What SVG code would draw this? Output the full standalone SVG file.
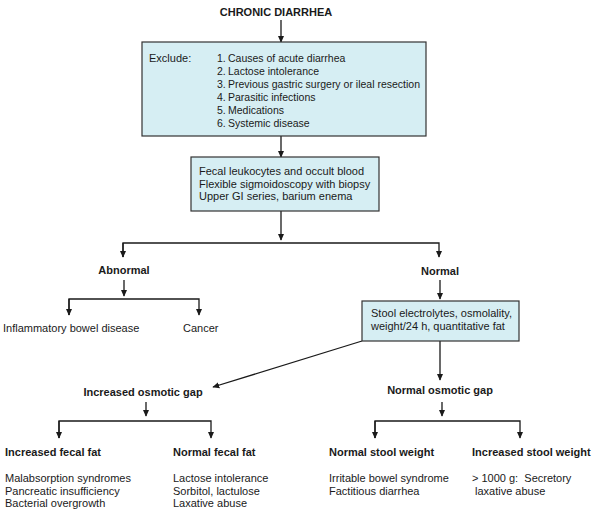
<svg xmlns="http://www.w3.org/2000/svg" width="595" height="514" viewBox="0 0 595 514">
<style>
text{font-family:"Liberation Sans",Arial,sans-serif;font-size:11px;fill:#1a1a1a}
.b{font-weight:bold}
.m{text-anchor:middle}
.s{font-size:10.5px}
.box{fill:#d6eef3;stroke:#333;stroke-width:1.2}
.ln{stroke:#1a1a1a;stroke-width:1.3;fill:none}
</style>
<defs>
<marker id="ah" viewBox="0 0 10 10" refX="9" refY="5" markerWidth="7" markerHeight="7" markerUnits="userSpaceOnUse" orient="auto"><path d="M0,0.5 L10,5 L0,9.5 z" fill="#1a1a1a"/></marker>
</defs>
<g id="connectors">
<path class="ln" d="M281,20 V42" marker-end="url(#ah)"/>
<path class="ln" d="M281,136 V157" marker-end="url(#ah)"/>
<path class="ln" d="M281,211 V240" marker-end="url(#ah)"/>
<path class="ln" d="M123,257 V243 H439 V257" marker-end="url(#ah)"/>
<path class="ln" d="M123,243 V257" marker-end="url(#ah)"/>
<path class="ln" d="M124,280 V296" marker-end="url(#ah)"/>
<path class="ln" d="M69,315 V299 H199 V315" marker-end="url(#ah)"/>
<path class="ln" d="M69,299 V315" marker-end="url(#ah)"/>
<path class="ln" d="M440,280 V299" marker-end="url(#ah)"/>
<path class="ln" d="M440,341 V380" marker-end="url(#ah)"/>
<path class="ln" d="M362,341 L213,387" marker-end="url(#ah)"/>
<path class="ln" d="M146,402 V416" marker-end="url(#ah)"/>
<path class="ln" d="M59,438 V421 H211 V438" marker-end="url(#ah)"/>
<path class="ln" d="M59,421 V438" marker-end="url(#ah)"/>
<path class="ln" d="M442,402 V416" marker-end="url(#ah)"/>
<path class="ln" d="M375,438 V421 H520 V438" marker-end="url(#ah)"/>
<path class="ln" d="M375,421 V438" marker-end="url(#ah)"/>
</g>
<g id="title"><text class="b m" x="276" y="16">CHRONIC DIARRHEA</text></g>
<g id="exclude">
<rect class="box" x="142" y="42" width="284" height="94"/>
<text x="149" y="62">Exclude:</text>
<text class="s" x="217" y="62">1.</text><text class="s" x="228" y="62">Causes of acute diarrhea</text>
<text class="s" x="217" y="75">2.</text><text class="s" x="228" y="75">Lactose intolerance</text>
<text class="s" x="217" y="88">3.</text><text class="s" x="228" y="88">Previous gastric surgery or ileal resection</text>
<text class="s" x="217" y="101">4.</text><text class="s" x="228" y="101">Parasitic infections</text>
<text class="s" x="217" y="114">5.</text><text class="s" x="228" y="114">Medications</text>
<text class="s" x="217" y="127">6.</text><text class="s" x="228" y="127">Systemic disease</text>
</g>
<g id="tests">
<rect class="box" x="191" y="157" width="188" height="54"/>
<text x="199" y="175">Fecal leukocytes and occult blood</text>
<text x="199" y="187.5">Flexible sigmoidoscopy with biopsy</text>
<text x="199" y="200">Upper GI series, barium enema</text>
</g>
<g id="abnormal"><text class="b m" x="124" y="274">Abnormal</text></g>
<g id="ibd"><text x="3" y="332">Inflammatory bowel disease</text></g>
<g id="cancer"><text x="183" y="332">Cancer</text></g>
<g id="normal"><text class="b m" x="440" y="275">Normal</text></g>
<g id="stool">
<rect class="box" x="362" y="301" width="157" height="40"/>
<text x="371" y="317">Stool electrolytes, osmolality,</text>
<text x="371" y="330">weight/24 h, quantitative fat</text>
</g>
<g id="inc-gap"><text class="b m" x="143" y="396">Increased osmotic gap</text></g>
<g id="norm-gap"><text class="b m" x="440" y="394">Normal osmotic gap</text></g>
<g id="inc-fat">
<text class="b" x="5" y="456">Increased fecal fat</text>
<text x="5" y="482">Malabsorption syndromes</text>
<text x="5" y="494.5">Pancreatic insufficiency</text>
<text x="5" y="507">Bacterial overgrowth</text>
</g>
<g id="norm-fat">
<text class="b" x="173" y="456">Normal fecal fat</text>
<text x="173" y="482">Lactose intolerance</text>
<text x="173" y="494.5">Sorbitol, lactulose</text>
<text x="173" y="507">Laxative abuse</text>
</g>
<g id="norm-weight">
<text class="b" x="329" y="456">Normal stool weight</text>
<text x="329" y="482">Irritable bowel syndrome</text>
<text x="329" y="494.5">Factitious diarrhea</text>
</g>
<g id="inc-weight">
<text class="b" x="472" y="456">Increased stool weight</text>
<text x="472" y="482" xml:space="preserve">&gt; 1000 g:  Secretory</text>
<text x="475" y="494.5">laxative abuse</text>
</g>
</svg>
